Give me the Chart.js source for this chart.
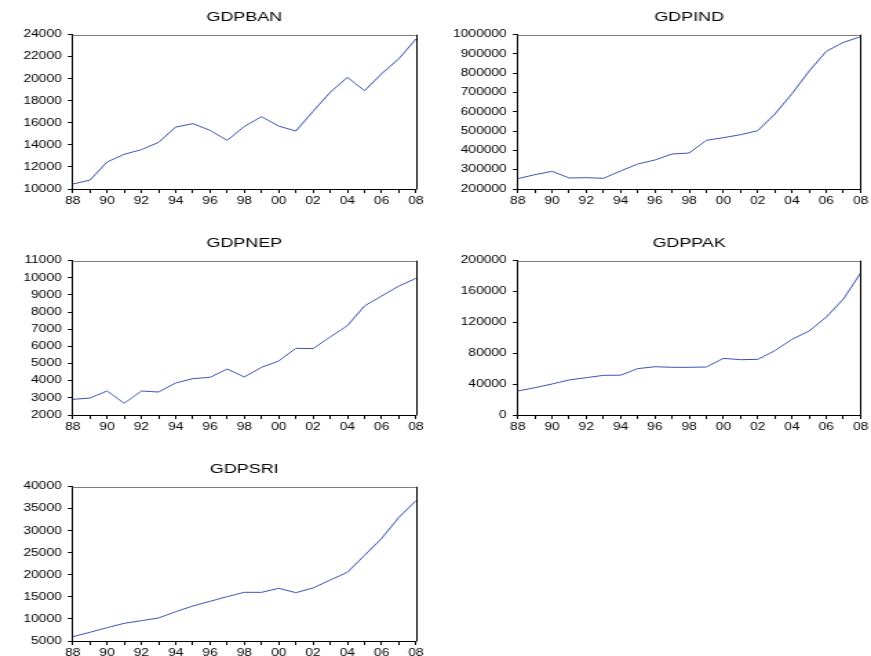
<!DOCTYPE html>
<html>
<head>
<meta charset="utf-8">
<title>GDP series 1988-2008</title>
<script src="https://cdn.jsdelivr.net/npm/chart.js@4.4.1/dist/chart.umd.min.js"></script>
<style>
  html, body { margin: 0; padding: 0; background: #fff; width: 871px; height: 656px; overflow: hidden; }
  canvas.panel { position: absolute; transform-origin: 0 0; }
</style>
</head>
<body>
<script>
// Years on the horizontal axis (two-digit labels)
const years = ['88','89','90','91','92','93','94','95','96','97','98','99','00','01','02','03','04','05','06','07','08'];

// Series values, one per year
const gdpBan = [10450,10800,12450,13150,13570,14230,15620,15930,15320,14410,15680,16560,15710,15260,17050,18770,20130,18920,20460,21820,23610];
const gdpInd = [253500,274300,291600,257000,258700,255300,293300,329600,350300,381400,386600,452300,466100,481600,502400,588800,694200,811700,913600,960300,989600];
const gdpNep = [2910,2990,3400,2680,3400,3340,3870,4120,4200,4680,4220,4780,5150,5890,5870,6550,7210,8360,8940,9520,9970];
const gdpPak = [31100,35400,40200,45400,48400,51400,51600,60100,62600,61800,61800,62200,73400,71700,72100,83400,98100,108900,127000,150300,184000];
const gdpSri = [5980,6970,8030,9010,9610,10220,11650,12940,14000,15060,16040,16040,16950,15960,17020,18840,20570,24430,28280,33050,36830];

// Panel titles and value-axis ranges
const titles = ['GDPBAN','GDPIND','GDPNEP','GDPPAK','GDPSRI'];
const series = [gdpBan, gdpInd, gdpNep, gdpPak, gdpSri];
const yMin  = [10000, 200000, 2000, 0, 5000];
const yMax  = [24000, 1000000, 11000, 200000, 40000];
const yStep = [2000, 100000, 1000, 40000, 5000];

// Layout of the panels (page pixels)
const STRETCH = 1.38;           // horizontal stretch of each panel
const FONT = "'Liberation Sans', Arial, Helvetica, sans-serif";
const TITLE_BLOCK = 34;         // title font 13 + padding 10 + 11
const X_AXIS_H = 15;
const layouts = [
  { left: 0,   top: 0,   w: 430, h: 215, aL: 72.7, aR: 416, aT: 34.7, aB: 189 },
  { left: 430, top: 0,   w: 441, h: 215, aL: 87.7, aR: 432, aT: 34.7, aB: 189 },
  { left: 0,   top: 215, w: 430, h: 215, aL: 72.7, aR: 416, aT: 45.7, aB: 200 },
  { left: 430, top: 215, w: 441, h: 215, aL: 87.7, aR: 432, aT: 45.7, aB: 200 },
  { left: 0,   top: 430, w: 430, h: 226, aL: 72.7, aR: 416, aT: 56.7, aB: 211 }
];

// Closes the plot box: grey top edge, black right edge
const frame = {
  id: 'frame',
  afterDatasetsDraw(chart) {
    const { ctx, chartArea: a } = chart;
    ctx.save();
    ctx.lineWidth = 1;
    ctx.strokeStyle = '#7f7f7f';
    const yt = Math.round(a.top) + 0.5;
    ctx.beginPath(); ctx.moveTo(a.left, yt); ctx.lineTo(a.right, yt); ctx.stroke();
    ctx.strokeStyle = '#000';
    const xr = Math.round(a.right) + 0.5;
    ctx.beginPath(); ctx.moveTo(xr, a.top); ctx.lineTo(xr, a.bottom + 0.5); ctx.stroke();
    ctx.restore();
  }
};

layouts.forEach((p, i) => {
  const cw = Math.round(p.w / STRETCH);
  const k = cw / p.w;
  const cv = document.createElement('canvas');
  cv.className = 'panel';
  cv.width = cw; cv.height = p.h;
  cv.style.left = p.left + 'px';
  cv.style.top = p.top + 'px';
  cv.style.width = cw + 'px';
  cv.style.height = p.h + 'px';
  cv.style.transform = 'scaleX(' + (p.w / cw) + ')';
  document.body.appendChild(cv);

  const tickFont = { family: FONT, size: 10 };

  new Chart(cv, {
    type: 'line',
    data: {
      labels: years,
      datasets: [{
        data: series[i],
        borderColor: '#3f52b2',
        borderWidth: 1,
        pointRadius: 0,
        tension: 0,
        fill: false
      }]
    },
    options: {
      responsive: false,
      animation: false,
      devicePixelRatio: 1,
      events: [],
      layout: {
        padding: {
          left: 0,
          top: p.aT - TITLE_BLOCK,
          right: (p.w - p.aR) * k,
          bottom: p.h - p.aB - X_AXIS_H
        }
      },
      plugins: {
        legend: { display: false },
        tooltip: { enabled: false },
        title: {
          display: true,
          text: titles[i],
          fullSize: false,
          color: '#000',
          font: { family: FONT, size: 13, weight: 'normal', lineHeight: 1 },
          padding: { top: 10, bottom: 11 }
        }
      },
      scales: {
        x: {
          type: 'category',
          offset: false,
          grid: { display: true, drawOnChartArea: false, drawTicks: true, tickLength: 4, color: '#000', lineWidth: 1, offset: false },
          border: { display: true, color: '#000', width: 1 },
          ticks: {
            autoSkip: false, maxRotation: 0, minRotation: 0, padding: 2,
            color: '#000', font: tickFont,
            callback: (v, idx) => (idx % 2 === 0 ? years[idx] : '')
          },
          afterFit: (s) => { s.height = X_AXIS_H; }
        },
        y: {
          type: 'linear',
          min: yMin[i],
          max: yMax[i],
          grid: { display: true, drawOnChartArea: false, drawTicks: true, tickLength: 3.5, color: '#000', lineWidth: 1 },
          border: { display: true, color: '#000', width: 1 },
          ticks: {
            stepSize: yStep[i], padding: 4.5, color: '#000', font: tickFont,
            callback: (v) => String(v)
          },
          afterFit: (s) => { s.width = p.aL * k; }
        }
      }
    },
    plugins: [frame]
  });
});
</script>
</body>
</html>
